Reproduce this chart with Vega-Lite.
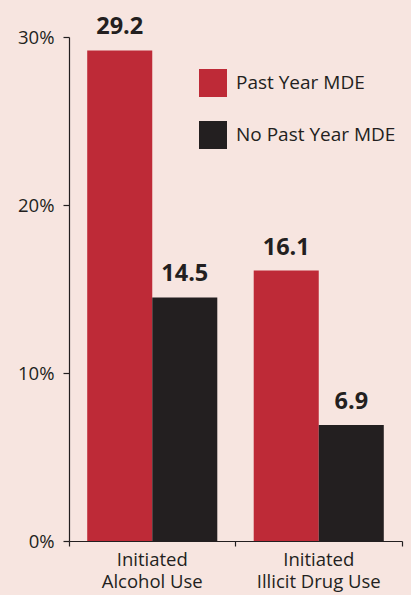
{
  "$schema": "https://vega.github.io/schema/vega-lite/v6.json",
  "width": 333,
  "height": 504,
  "autosize": "none",
  "padding": {"left": 69, "top": 37, "right": 9, "bottom": 54},
  "background": "#F7E5E0",
  "config": {
    "view": {"stroke": null},
    "font": "Open Sans",
    "axis": {"domainColor": "#231F20", "tickColor": "#231F20", "labelColor": "#231F20", "grid": false, "title": null, "labelFont": "Open Sans", "labelFontSize": 18.5, "domainWidth": 1.2, "tickWidth": 1.2}
  },
  "data": {
    "values": [
      {"cat": "Initiated|Alcohol Use", "group": "Past Year MDE", "value": 29.2},
      {"cat": "Initiated|Alcohol Use", "group": "No Past Year MDE", "value": 14.5},
      {"cat": "Initiated|Illicit Drug Use", "group": "Past Year MDE", "value": 16.1},
      {"cat": "Initiated|Illicit Drug Use", "group": "No Past Year MDE", "value": 6.9}
    ]
  },
  "encoding": {
    "x": {
      "field": "cat", "type": "nominal", "sort": null,
      "scale": {"paddingInner": 0, "paddingOuter": 0},
      "axis": {"labelAngle": 0, "bandPosition": 1, "tickExtra": true, "tickSize": 5, "labelPadding": 4, "labelExpr": "split(datum.label, '|')", "labelLineHeight": 22, "labelBaseline": "top"}
    },
    "xOffset": {
      "field": "group", "type": "nominal", "sort": ["Past Year MDE", "No Past Year MDE"],
      "scale": {"paddingOuter": 0.28, "paddingInner": 0}
    },
    "y": {
      "field": "value", "type": "quantitative",
      "scale": {"domain": [0, 30], "nice": false},
      "axis": {"values": [0, 10, 20, 30], "labelExpr": "datum.value + '%'", "tickSize": 6, "labelPadding": 9}
    }
  },
  "layer": [
    {
      "mark": {"type": "bar"},
      "encoding": {
        "color": {
          "field": "group", "type": "nominal",
          "sort": ["Past Year MDE", "No Past Year MDE"],
          "scale": {"domain": ["Past Year MDE", "No Past Year MDE"], "range": ["#BE2A37", "#231F20"]},
          "legend": {"title": null, "orient": "none", "legendX": 130, "legendY": 32, "symbolType": "square", "symbolSize": 784, "symbolStrokeWidth": 0, "rowPadding": 24, "labelFontSize": 19, "labelColor": "#231F20", "labelOffset": 9, "labelFont": "Open Sans", "labelLimit": 250}
        }
      }
    },
    {
      "mark": {"type": "text", "baseline": "alphabetic", "dy": -16, "fontSize": 23.5, "fontWeight": "bold", "color": "#231F20", "font": "Open Sans"},
      "encoding": {
        "text": {"field": "value", "type": "quantitative", "format": ".1f"}
      }
    }
  ]
}
